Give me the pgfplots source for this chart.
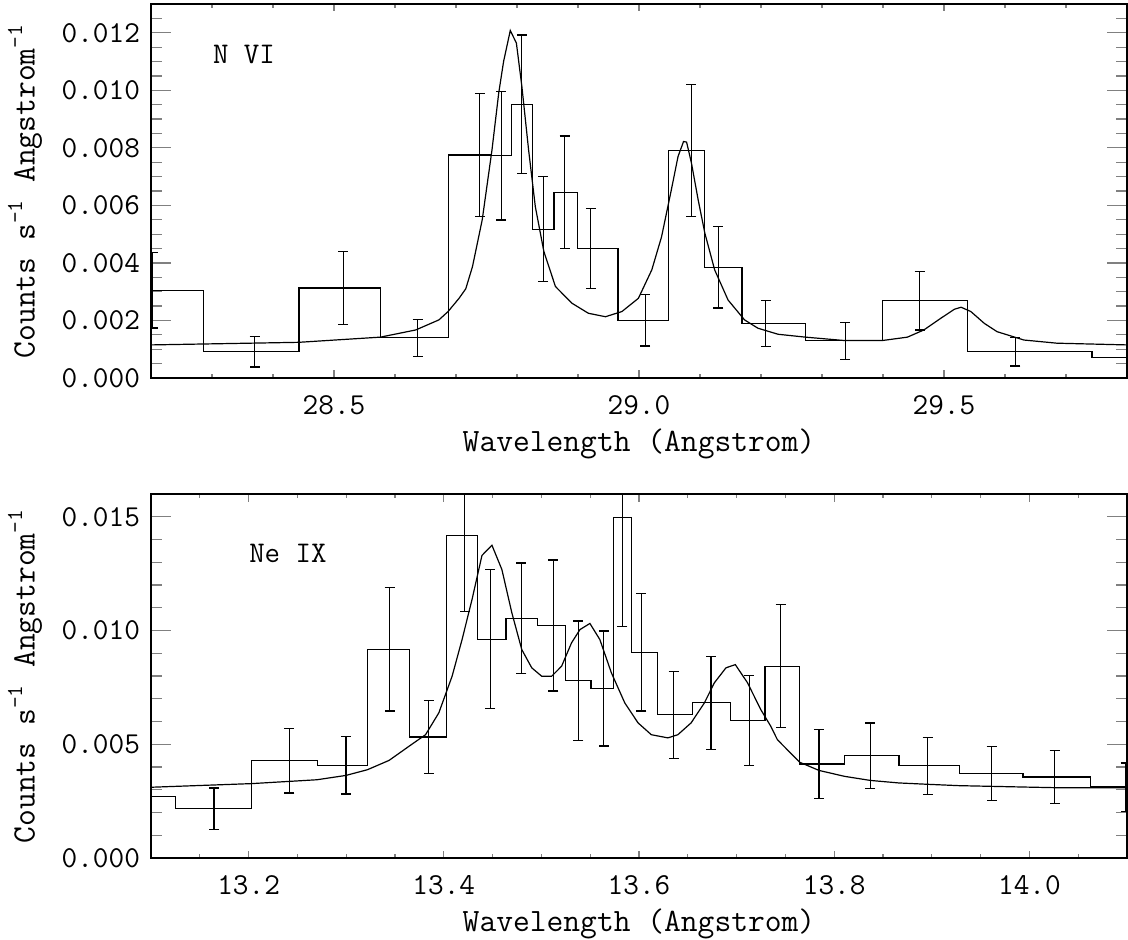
\documentclass[border=0pt]{standalone}
\renewcommand{\familydefault}{\ttdefault}
\usepackage{pgfplots}
\pgfplotsset{compat=1.18}

\pgfplotsset{
  idl/.style={
    width=488pt, scale only axis,
    anchor=north west,
    tick pos=both, tick align=inside,
    axis line style={line width=0.6pt},
    xtick style={line width=0.6pt, /pgfplots/major tick length=3.75pt, /pgfplots/minor tick length=2pt},
    ytick style={line width=0.6pt, /pgfplots/major tick length=10pt, /pgfplots/minor tick length=5.5pt},
    scaled ticks=false,
    /pgf/number format/assume math mode=true,
    tick label style={font=\fontsize{15.2}{17}\selectfont},
    label style={font=\fontsize{16.3}{18}\selectfont},
    xlabel={Wavelength (Angstrom)},
    ylabel={Counts s\textsuperscript{-1} Angstrom\textsuperscript{-1}},
    xlabel style={at={(axis description cs:0.5,0)}, anchor=north, inner sep=0pt, yshift=-25pt},
    ylabel style={at={(axis description cs:-0.129,0.5)}, anchor=center, inner sep=0pt},
    xticklabel style={yshift=-5pt, /pgf/number format/fixed, /pgf/number format/fixed zerofill, /pgf/number format/precision=1},
    yticklabel style={xshift=-2pt, /pgf/number format/fixed, /pgf/number format/fixed zerofill, /pgf/number format/precision=3},
  },
  hist/.style={black, line width=0.6pt, const plot mark mid, mark=none,
    error bars/.cd, y dir=both, y explicit,
    error bar style={line width=0.6pt},
    error mark options={rotate=90, line width=0.6pt, mark size=2.5pt}},
  model/.style={black, line width=0.6pt, mark=none},
}

% N VI: wavelength, rate, error
\pgfplotstableread{
x y e
28.203 0.00305 0.00131
28.370 0.000915 0.00053
28.515 0.00313 0.00128
28.637 0.00140 0.00064
28.739 0.00775 0.00215
28.774 0.00772 0.00223
28.808 0.00952 0.00240
28.843 0.00517 0.00182
28.878 0.00646 0.00195
28.921 0.00450 0.00140
29.010 0.00201 0.00090
29.086 0.00791 0.00229
29.130 0.00385 0.00142
29.208 0.00189 0.00079
29.338 0.00129 0.00064
29.460 0.00268 0.00101
29.617 0.000915 0.00050
29.868 0.00072 0.00050
}\nvi

% Ne IX
\pgfplotstableread{
x y e
13.0864 0.00271 0.00100
13.1646 0.00216 0.00092
13.2418 0.00428 0.00142
13.2997 0.00407 0.00126
13.3446 0.00918 0.00272
13.3847 0.00532 0.00159
13.4214 0.01418 0.00336
13.4477 0.00962 0.00306
13.4796 0.01054 0.00243
13.5122 0.01022 0.00288
13.5378 0.00779 0.00263
13.5640 0.00745 0.00253
13.5830 0.01498 0.00480
13.6023 0.00904 0.00258
13.6354 0.00630 0.00191
13.6738 0.00682 0.00204
13.7129 0.00604 0.00199
13.7452 0.00843 0.00271
13.7844 0.00413 0.00152
13.8370 0.00449 0.00144
13.8956 0.00405 0.00125
13.9612 0.00372 0.00118
14.0258 0.00356 0.00118
14.0987 0.00312 0.00106
}\neix

\begin{document}
\begin{tikzpicture}
\path[use as bounding box] (-75.5pt,2pt) rectangle (488.5pt,-468pt);

% top panel
\begin{axis}[idl, at={(0,0)}, height=187pt,
    xmin=28.2, xmax=29.8, ymin=0, ymax=0.013,
    xtick={28.5,29.0,29.5},
    minor xtick={28.3,28.4,28.6,28.7,28.8,28.9,29.1,29.2,29.3,29.4,29.6,29.7},
    ytick={0,0.002,0.004,0.006,0.008,0.010,0.012},
    minor ytick={0.0005,0.001,0.0015,0.0025,0.003,0.0035,0.0045,0.005,0.0055,0.0065,0.007,0.0075,0.0085,0.009,0.0095,0.0105,0.011,0.0115,0.0125},
]
\addplot[hist] table[x=x, y=y, y error=e] {\nvi};
\addplot[model] coordinates {
  (28.200,0.00115) (28.442,0.00124) (28.576,0.00142) (28.634,0.00167)
  (28.672,0.00202) (28.687,0.00231) (28.705,0.00277) (28.716,0.00310)
  (28.727,0.00387) (28.743,0.00550) (28.759,0.00793) (28.770,0.00990)
  (28.778,0.01100) (28.789,0.01208) (28.799,0.01164) (28.808,0.01013)
  (28.819,0.00793) (28.830,0.00596) (28.844,0.00440) (28.863,0.00318)
  (28.890,0.00260) (28.917,0.00225) (28.945,0.00213) (28.972,0.00231)
  (28.999,0.00277) (29.021,0.00376) (29.037,0.00491) (29.053,0.00654)
  (29.064,0.00770) (29.073,0.00822) (29.078,0.00820) (29.086,0.00747)
  (29.097,0.00619) (29.108,0.00503) (29.124,0.00376) (29.146,0.00271)
  (29.173,0.00202) (29.195,0.00173) (29.228,0.00152) (29.273,0.00142)
  (29.338,0.00130) (29.398,0.00130) (29.440,0.00142) (29.467,0.00167)
  (29.495,0.00208) (29.517,0.00239) (29.528,0.00246) (29.544,0.00231)
  (29.566,0.00190) (29.587,0.00161) (29.631,0.00132) (29.685,0.00121)
  (29.800,0.00115)
};
\node[anchor=west, inner sep=0pt, font=\fontsize{15}{17}\selectfont] at (axis cs:28.301,0.01125) {N VI};
\end{axis}

% bottom panel
\begin{axis}[idl, at={(0,-245pt)}, height=182pt,
    xmin=13.1, xmax=14.1, ymin=0, ymax=0.016,
    xtick={13.2,13.4,13.6,13.8,14.0},
    minor xtick={13.15,13.25,13.3,13.35,13.45,13.5,13.55,13.65,13.7,13.75,13.85,13.9,13.95,14.05},
    ytick={0,0.005,0.010,0.015},
    minor ytick={0.001,0.002,0.003,0.004,0.006,0.007,0.008,0.009,0.011,0.012,0.013,0.014},
]
\addplot[hist] table[x=x, y=y, y error=e] {\neix};
\addplot[model] coordinates {
  (13.1000,0.00311) (13.2031,0.00327) (13.2701,0.00344) (13.2997,0.00363)
  (13.3217,0.00388) (13.3439,0.00429) (13.3643,0.00491) (13.3813,0.00542)
  (13.3949,0.00638) (13.4085,0.00799) (13.4187,0.00960) (13.4289,0.01136)
  (13.4391,0.01330) (13.4493,0.01375) (13.4595,0.01268) (13.4697,0.01078)
  (13.4799,0.00916) (13.4901,0.00836) (13.5003,0.00799) (13.5105,0.00799)
  (13.5207,0.00843) (13.5309,0.00946) (13.5395,0.01004) (13.5497,0.01031)
  (13.5599,0.00960) (13.5717,0.00814) (13.5854,0.00682) (13.5990,0.00594)
  (13.6126,0.00542) (13.6296,0.00528) (13.6398,0.00542) (13.6534,0.00594)
  (13.6670,0.00682) (13.6772,0.00770) (13.6891,0.00836) (13.6987,0.00850)
  (13.7112,0.00770) (13.7248,0.00652) (13.7350,0.00579) (13.7418,0.00520)
  (13.7646,0.00421) (13.7844,0.00385) (13.8105,0.00359) (13.8370,0.00341)
  (13.8660,0.00330) (13.8956,0.00324) (13.9279,0.00318) (13.9612,0.00315)
  (13.9936,0.00312) (14.0276,0.00309) (14.1000,0.00309)
};
\node[anchor=west, inner sep=0pt, font=\fontsize{15}{17}\selectfont] at (axis cs:13.2003,0.01339) {Ne IX};
\end{axis}
\end{tikzpicture}
\end{document}
